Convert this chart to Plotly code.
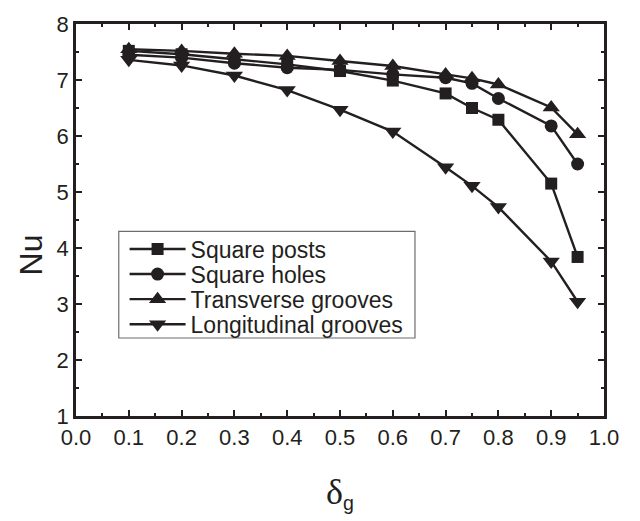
import plotly.graph_objects as go

# Nusselt number versus groove/post fraction for four surface textures
delta_g = [0.1, 0.2, 0.3, 0.4, 0.5, 0.6, 0.7, 0.75, 0.8, 0.9, 0.95]

nu_square_posts = [7.52, 7.46, 7.37, 7.28, 7.16, 6.99, 6.76, 6.50, 6.29, 5.15, 3.84]
nu_square_holes = [7.45, 7.40, 7.30, 7.22, 7.18, 7.10, 7.04, 6.94, 6.67, 6.18, 5.50]
nu_transverse = [7.55, 7.52, 7.47, 7.43, 7.34, 7.25, 7.10, 7.03, 6.92, 6.51, 6.03]
nu_longitudinal = [7.36, 7.26, 7.08, 6.82, 6.47, 6.08, 5.44, 5.11, 4.73, 3.76, 3.04]

series_names = ["Square posts", "Square holes", "Transverse grooves", "Longitudinal grooves"]
series_values = [nu_square_posts, nu_square_holes, nu_transverse, nu_longitudinal]
series_symbols = ["square", "circle", "triangle-up", "triangle-down"]
series_sizes = [12, 13, 15, 15]

x_ticks = [round(0.1 * i, 1) for i in range(11)]
y_ticks = [1, 2, 3, 4, 5, 6, 7, 8]

INK = "#231f20"
SANS = "Liberation Sans, Arial, sans-serif"
SERIF = "Liberation Serif, Times New Roman, serif"

# one legend per series so the rows can sit closer together than the default spacing
legend_ids = ["legend", "legend2", "legend3", "legend4"]
legend_rows_y = [0.426, 0.362, 0.298, 0.234]

fig = go.Figure()
for name, vals, sym, sz, lid in zip(series_names, series_values, series_symbols, series_sizes, legend_ids):
    fig.add_trace(go.Scatter(
        x=delta_g, y=vals, name=name, mode="lines+markers",
        line=dict(color=INK, width=2.4),
        marker=dict(symbol=sym, size=sz, color=INK, line=dict(width=0)),
        legend=lid,
    ))

axis_common = dict(
    showgrid=False, zeroline=False,
    showline=True, linecolor=INK, linewidth=2.5, mirror="ticks",
    ticks="inside", ticklen=6, tickwidth=2, tickcolor=INK,
    tickfont=dict(family=SANS, size=22, color=INK),
)

fig.update_xaxes(
    range=[0, 1], tickvals=x_ticks, ticktext=[f"{v:.1f}" for v in x_ticks],
    minor=dict(ticks="inside", ticklen=3, tickwidth=2, tickcolor=INK, dtick=0.05, showgrid=False),
    title=dict(
        text=f'<span style="font-family:{SERIF};font-size:36px">δ</span><sub>g</sub>',
        font=dict(family=SANS, size=28, color=INK), standoff=36),
    **axis_common,
)
fig.update_yaxes(
    range=[1, 8], tickvals=y_ticks,
    minor=dict(ticks="inside", ticklen=3, tickwidth=2, tickcolor=INK, dtick=0.5, showgrid=False),
    **axis_common,
)

fig.add_annotation(
    text="Nu", textangle=-90, showarrow=False,
    xref="paper", yref="paper", x=-0.085, y=0.41, xanchor="center", yanchor="middle",
    font=dict(family=SANS, size=32, color=INK),
)

# legend frame
fig.add_shape(
    type="rect", xref="paper", yref="paper",
    x0=0.081, x1=0.642, y0=0.199, y1=0.471,
    line=dict(color="#6d6d6d", width=1.2), fillcolor="rgba(0,0,0,0)",
)

legend_style = dict(
    xanchor="left", yanchor="middle",
    bgcolor="rgba(0,0,0,0)", borderwidth=0,
    font=dict(family=SANS, size=23, color=INK),
    itemwidth=56,
)
layout_legends = {
    lid: dict(x=0.092, y=ly, **legend_style)
    for lid, ly in zip(legend_ids, legend_rows_y)
}

fig.update_layout(
    width=640, height=521,
    margin=dict(l=76, r=36, t=19, b=105),
    paper_bgcolor="white", plot_bgcolor="white",
    showlegend=True,
    **layout_legends,
)

fig.write_html("out.html")
